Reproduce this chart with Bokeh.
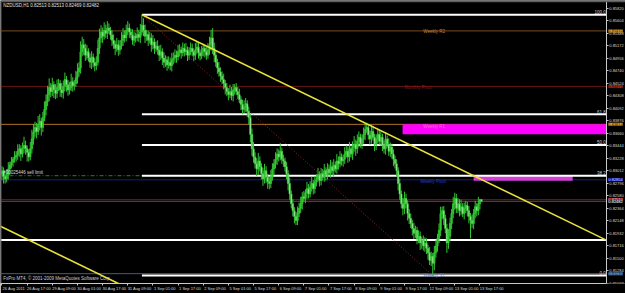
import numpy as np
from bokeh.plotting import figure
from bokeh.models import Range1d, LinearAxis, FixedTicker, NumeralTickFormatter, Label, BoxAnnotation
from bokeh.embed import file_html
from bokeh.resources import INLINE

# ---------------- data (NZDUSD H1, prices in pips of 0.0001) ----------------
chart_title = "NZDUSD,H1  0.82513 0.82513 0.82469 0.82482"
copyright_text = "FxPro MT4, \u00a9 2001-2009 MetaQuotes Software Corp."
order_text = "#30025446 sell limit"

first_open_pips = 8295
close_pips = [
    8301, 8291, 8287, 8294, 8304, 8311, 8316, 8321, 8325, 8328,
    8335, 8339, 8330, 8340, 8345, 8339, 8333, 8325, 8339, 8356,
    8368, 8376, 8369, 8381, 8387, 8376, 8393, 8407, 8421, 8433,
    8445, 8438, 8450, 8441, 8435, 8445, 8452, 8441, 8436, 8447,
    8459, 8450, 8441, 8445, 8455, 8448, 8452, 8462, 8472, 8479,
    8507, 8519, 8513, 8501, 8507, 8496, 8489, 8498, 8488, 8483,
    8489, 8513, 8531, 8541, 8534, 8544, 8539, 8548, 8544, 8536,
    8527, 8520, 8513, 8519, 8510, 8517, 8527, 8536, 8531, 8544,
    8548, 8541, 8536, 8527, 8534, 8531, 8537, 8532, 8541, 8553,
    8544, 8534, 8537, 8527, 8531, 8519, 8524, 8513, 8517, 8510,
    8501, 8507, 8496, 8489, 8493, 8484, 8489, 8483, 8493, 8496,
    8501, 8498, 8507, 8510, 8505, 8513, 8507, 8510, 8501, 8507,
    8513, 8507, 8501, 8510, 8515, 8505, 8500, 8507, 8513, 8507,
    8501, 8510, 8519, 8531, 8513, 8501, 8489, 8479, 8472, 8465,
    8459, 8452, 8445, 8438, 8433, 8438, 8431, 8441, 8445, 8438,
    8433, 8424, 8416, 8407, 8411, 8417, 8404, 8393, 8364, 8339,
    8325, 8313, 8304, 8318, 8308, 8296, 8287, 8301, 8290, 8282,
    8279, 8290, 8304, 8313, 8321, 8330, 8325, 8335, 8321, 8318,
    8308, 8296, 8279, 8261, 8244, 8232, 8222, 8215, 8227, 8236,
    8244, 8256, 8253, 8263, 8270, 8261, 8273, 8279, 8270, 8282,
    8287, 8294, 8284, 8296, 8290, 8301, 8294, 8304, 8297, 8308,
    8301, 8311, 8304, 8318, 8313, 8325, 8318, 8321, 8330, 8335,
    8325, 8339, 8330, 8342, 8347, 8339, 8352, 8359, 8347, 8356,
    8364, 8373, 8376, 8363, 8356, 8369, 8359, 8347, 8356, 8364,
    8352, 8359, 8345, 8339, 8356, 8347, 8335, 8342, 8330, 8321,
    8313, 8301, 8279, 8261, 8244, 8236, 8253, 8244, 8227, 8219,
    8210, 8201, 8193, 8198, 8184, 8188, 8176, 8181, 8171, 8176,
    8167, 8159, 8146, 8153, 8141, 8159, 8171, 8184, 8198, 8227,
    8232, 8219, 8201, 8176, 8188, 8210, 8227, 8244, 8253, 8236,
    8244, 8232, 8239, 8227, 8236, 8241, 8232, 8222, 8215, 8210,
    8227, 8239, 8232, 8244, 8251.3, 8248.2,
]
upper_wick_pips = [
    8, 6, 5, 10, 12, 6, 9, 4, 10, 7,
    12, 8, 6, 10, 15, 8, 6, 5, 12, 16,
    14, 10, 8, 15, 12, 6, 10, 14, 12, 15,
    16, 8, 12, 6, 10, 14, 8, 6, 12, 10,
    12, 6, 8, 10, 14, 8, 6, 12, 15, 10,
    18, 14, 10, 8, 12, 6, 8, 10, 6, 8,
    10, 15, 16, 12, 8, 14, 10, 12, 8, 6,
    8, 10, 6, 12, 8, 10, 14, 12, 8, 10,
    12, 8, 6, 10, 8, 6, 12, 8, 14, 18,
    12, 10, 8, 6, 10, 8, 12, 6, 8, 10,
    8, 12, 6, 10, 8, 6, 10, 8, 12, 10,
    10, 8, 12, 10, 6, 10, 8, 12, 6, 8,
    10, 8, 6, 12, 10, 8, 6, 10, 8, 6,
    8, 12, 14, 14, 17, 10, 8, 6, 10, 8,
    8, 10, 6, 8, 6, 12, 8, 10, 6, 8,
    8, 10, 6, 8, 12, 10, 6, 8, 6, 10,
    12, 8, 10, 14, 8, 6, 10, 12, 8, 6,
    8, 12, 10, 8, 12, 10, 8, 14, 6, 8,
    6, 8, 6, 10, 6, 8, 6, 8, 12, 10,
    12, 8, 10, 6, 12, 8, 10, 12, 6, 10,
    8, 12, 6, 10, 8, 12, 6, 10, 8, 12,
    8, 10, 6, 12, 8, 10, 6, 8, 12, 10,
    8, 12, 6, 10, 14, 8, 12, 10, 6, 8,
    12, 10, 8, 6, 8, 12, 10, 6, 8, 10,
    8, 10, 6, 8, 12, 6, 10, 8, 6, 8,
    6, 8, 6, 8, 6, 10, 12, 8, 6, 8,
    8, 6, 10, 8, 6, 10, 8, 6, 8, 10,
    8, 6, 10, 8, 6, 12, 10, 8, 12, 12,
    7, 8, 6, 8, 12, 10, 8, 12, 10, 8,
    10, 8, 12, 6, 10, 8, 6, 8, 6, 10,
    8, 10, 6, 12, 0, 0,
]
lower_wick_pips = [
    10, 12, 8, 6, 8, 10, 6, 8, 6, 8,
    8, 10, 12, 6, 8, 10, 16, 8, 6, 8,
    10, 8, 12, 6, 10, 14, 8, 6, 10, 8,
    12, 10, 8, 14, 10, 8, 6, 12, 8, 10,
    8, 12, 10, 8, 6, 10, 8, 6, 10, 8,
    10, 8, 12, 10, 8, 6, 10, 12, 8, 10,
    8, 6, 10, 8, 12, 6, 8, 10, 6, 8,
    10, 8, 12, 6, 10, 8, 6, 10, 8, 6,
    8, 10, 6, 8, 10, 8, 6, 8, 10, 6,
    10, 12, 8, 10, 6, 12, 8, 10, 6, 8,
    10, 8, 12, 10, 8, 10, 6, 8, 10, 8,
    8, 10, 6, 8, 10, 6, 8, 6, 10, 8,
    6, 8, 10, 8, 6, 10, 8, 6, 8, 10,
    8, 6, 8, 10, 10, 12, 8, 10, 8, 10,
    8, 10, 12, 8, 10, 6, 8, 10, 8, 6,
    8, 6, 10, 8, 6, 8, 10, 12, 14, 12,
    10, 8, 12, 10, 8, 10, 12, 8, 10, 12,
    10, 8, 6, 10, 8, 10, 8, 6, 8, 10,
    8, 10, 12, 10, 8, 10, 12, 8, 8, 6,
    8, 10, 6, 8, 10, 8, 6, 8, 10, 8,
    8, 6, 10, 8, 6, 8, 10, 8, 6, 8,
    8, 10, 6, 8, 10, 6, 8, 10, 8, 6,
    10, 8, 6, 10, 8, 12, 8, 10, 6, 8,
    8, 10, 6, 8, 10, 8, 6, 12, 10, 8,
    6, 8, 10, 8, 10, 6, 8, 10, 8, 12,
    8, 10, 12, 10, 8, 12, 10, 8, 12, 10,
    8, 12, 10, 8, 10, 8, 12, 10, 8, 10,
    10, 12, 8, 10, 21, 12, 8, 10, 8, 10,
    10, 12, 8, 17, 10, 8, 10, 8, 10, 8,
    8, 10, 8, 6, 10, 8, 10, 12, 31, 8,
    10, 8, 10, 8, 10, 1.3,
]

time_label_bars = [0, 16, 32, 48, 64, 80, 96, 112, 128, 144, 160, 176, 192, 208, 224, 240, 256, 272, 288, 304]
time_labels = ["26 Aug 2011", "26 Aug 17:00", "29 Aug 09:00", "30 Aug 01:00", "30 Aug 17:00",
               "31 Aug 09:00", "1 Sep 01:00", "1 Sep 17:00", "2 Sep 09:00", "5 Sep 01:00",
               "5 Sep 17:00", "6 Sep 09:00", "7 Sep 01:00", "7 Sep 17:00", "8 Sep 09:00",
               "9 Sep 01:00", "9 Sep 17:00", "12 Sep 09:00", "13 Sep 01:00", "13 Sep 17:00"]

price_ticks = [0.85820, 0.85604, 0.85388, 0.85172, 0.84956, 0.84740, 0.84524, 0.84308,
               0.84092, 0.83876, 0.83660, 0.83444, 0.83228, 0.83012, 0.82796, 0.82580,
               0.82364, 0.82148, 0.81932, 0.81716, 0.81500, 0.81284, 0.81068]

# Fibonacci retracement anchors (bar index, price)
fib_high_bar, fib_high = 89, 0.85710
fib_low_bar, fib_low = 274, 0.81200
fib_levels = [0.0, 38.2, 50.0, 61.8, 100.0]

# horizontal levels
weekly_r2 = 0.85431
monthly_pivot = 0.84471
weekly_r1_top, weekly_r1_bottom = 0.83814, 0.83643
weekly_pivot = 0.82854
sell_limit = 0.82925
red_level = 0.82510
bid_price = 0.82482
white_level = 0.81814
weekly_s1 = 0.81230
zone_top, zone_bottom = 0.82928, 0.82840

# trend line (yellow) and its parallel
trend_start_bar, trend_start_price = 89, 0.85710
trend_slope = -0.000132   # price per bar
parallel_start_bar, parallel_start_price = -1, 0.82050

# ---------------- derived OHLC ----------------
close = np.array(close_pips, dtype=float) / 10000.0
open_ = np.concatenate([[first_open_pips / 10000.0], close[:-1]])
high = np.maximum(open_, close) + np.array(upper_wick_pips, dtype=float) / 10000.0
low = np.minimum(open_, close) - np.array(lower_wick_pips, dtype=float) / 10000.0
bars = np.arange(len(close))
bull = close >= open_

# ---------------- figure ----------------
X0, X1 = -0.95, 396.6     # frame spans whole window width
AX = 384.4                 # where the price scale sits (MT4 style)
Y0, Y1 = 0.81060, 0.85957

p = figure(width=625, height=293, output_backend="svg", toolbar_location=None,
           x_range=Range1d(X0, X1), y_range=Range1d(Y0, Y1),
           x_axis_location=None, y_axis_location=None,
           background_fill_color="black", border_fill_color="black",
           min_border_left=0, min_border_right=0, min_border_top=0, min_border_bottom=1)
p.grid.visible = False
p.outline_line_color = None

FONT = "Liberation Sans"
AXC = "#c8c8c8"

# right price axis drawn at a fixed location inside the window
yax = LinearAxis(ticker=FixedTicker(ticks=price_ticks),
                 formatter=NumeralTickFormatter(format="0.00000"),
                 fixed_location=AX)
yax.axis_line_color = AXC
yax.major_tick_line_color = AXC
yax.major_tick_out = 2
yax.major_tick_in = 0
yax.minor_tick_line_color = None
yax.major_label_text_color = "#d8d8d8"
yax.major_label_text_font = FONT
yax.major_label_text_font_size = "4px"
yax.major_label_standoff = 1
p.add_layout(yax, "right")

# bottom time axis (labels sit right of their tick, as in MT4)
label_centers = [b + 7.5 for b in time_label_bars]
xax = LinearAxis(ticker=FixedTicker(ticks=label_centers, minor_ticks=time_label_bars),
                 major_label_overrides={c: t for c, t in zip(label_centers, time_labels)},
                 bounds=(X0, AX))
xax.axis_line_color = AXC
xax.major_tick_line_color = None
xax.major_tick_out = 0
xax.minor_tick_line_color = AXC
xax.minor_tick_out = 2
xax.minor_tick_in = 0
xax.major_label_text_color = "#d8d8d8"
xax.major_label_text_font = FONT
xax.major_label_text_font_size = "4px"
xax.major_label_standoff = 0
p.add_layout(xax, "below")

# window frame greys
p.add_layout(BoxAnnotation(bottom=0.85925, fill_color="#5c5c5c", fill_alpha=1, line_color=None))
p.add_layout(BoxAnnotation(right=-0.35, fill_color="#6a6a6a", fill_alpha=1, line_color=None))

# level lines up to the price scale
def hline(loc, color, width=1, dash="solid"):
    p.segment(x0=[X0], x1=[AX], y0=[loc], y1=[loc], line_color=color,
              line_width=width, line_dash=dash)

hline(weekly_r2, "#7b4a1e")
hline(monthly_pivot, "#6a1414")
hline(weekly_r1_top, "#b0702a")
hline(sell_limit, "#1f8a1f", 1, "4 2 1 2")
hline(weekly_pivot, "#14207a")
hline(red_level, "#8e1212")
hline(bid_price, "#4a5060")
hline(white_level, "white", 2)
hline(weekly_s1, "#4a5a78")

# weekly R1 zone and small zone
p.quad(left=[254.8], right=[AX], bottom=[weekly_r1_bottom], top=[weekly_r1_top],
       fill_color="#ff00ff", line_color=None)
p.quad(left=[300], right=[363], bottom=[zone_bottom], top=[zone_top],
       fill_color="#e040e0", line_color=None, fill_alpha=0.95)

# fib levels
fib_prices = [fib_low + (fib_high - fib_low) * lv / 100.0 for lv in fib_levels]
p.segment(x0=[fib_high_bar] * len(fib_prices), x1=[AX] * len(fib_prices),
          y0=fib_prices, y1=fib_prices, line_color="white", line_width=2)
p.line([fib_high_bar, fib_low_bar], [fib_high, fib_low], line_color="#b01818",
       line_width=1, line_dash="1 2")

# candles
p.segment(x0=bars, x1=bars, y0=low, y1=high, line_color="#33c733", line_width=1)
p.vbar(x=bars[bull], width=0.9, bottom=open_[bull], top=close[bull],
       fill_color="#33c733", line_color="#33c733", line_width=0.7)
p.vbar(x=bars[~bull], width=0.9, bottom=close[~bull], top=open_[~bull],
       fill_color="#c4f0c4", line_color="#33c733", line_width=0.7)

# trend lines
p.line([trend_start_bar, AX],
       [trend_start_price, trend_start_price + trend_slope * (AX - trend_start_bar)],
       line_color="#e8e23a", line_width=1.6)
p_end = 90
p.line([parallel_start_bar, p_end],
       [parallel_start_price, parallel_start_price + trend_slope * (p_end - parallel_start_bar)],
       line_color="#e8e23a", line_width=1.6)

# texts inside the chart
def txt(x, y, s, color, size="4.5px", align="left", base="middle", **kw):
    p.add_layout(Label(x=x, y=y, text=s, text_color=color, text_font=FONT,
                       text_font_size=size, text_align=align, text_baseline=base, **kw))

txt(0.8, Y1 - 0.00045, chart_title, "#e0e0e0", base="top")
txt(0.8, Y0 + 0.00040, copyright_text, "#d0d0d0", base="bottom")
txt(0.8, sell_limit + 0.00005, order_text, "#d8d8d8", base="bottom")
txt(268, weekly_r2 - 0.00015, "Weekly R2", "#c8803a")
txt(256, monthly_pivot - 0.00015, "Monthly Pivot", "#8b1c1c")
txt(268, weekly_r1_top - 0.00045, "Weekly R1", "#ff66cc")
txt(266, weekly_pivot - 0.00025, "Weekly Pivot", "#2040c8")
txt(268, weekly_s1 - 0.00030, "Weekly S1", "#5a7ab8")
for lv, pr in zip(fib_levels, fib_prices):
    txt(AX - 0.3, pr + 0.00012, "%.1f" % lv, "#d0d0d0", align="right", base="bottom")

# coloured price labels on the price scale
axis_boxes = [
    (weekly_r2, "#e8a030", "#201000"),
    (monthly_pivot, "#b02020", "#300000"),
    (weekly_r1_top, "#e8a030", "#201000"),
    (weekly_pivot, "#1818d0", "#c0c8ff"),
    (red_level, "#c02020", "#ffd0d0"),
    (bid_price, "#202020", "#ffffff"),
    (weekly_s1, "#5a8ac8", "#081830"),
]
for pr, bg, fg in axis_boxes:
    p.add_layout(Label(x=AX, y=pr, x_offset=2, text="%.5f" % pr, text_color=fg,
                       text_font=FONT, text_font_size="4px", text_align="left",
                       text_baseline="middle", background_fill_color=bg))

open("out.html", "w").write(file_html(p, INLINE))
